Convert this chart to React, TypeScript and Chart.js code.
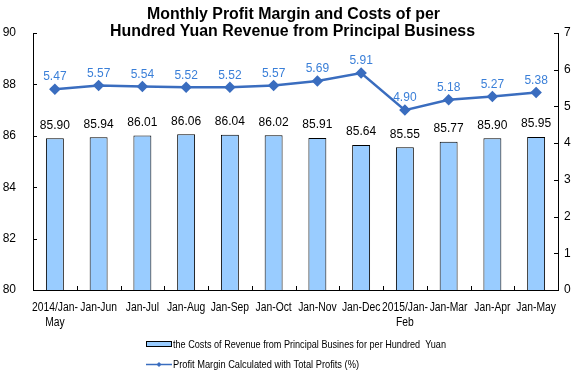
import React, { useEffect, useRef } from 'react';
import { Chart, registerables } from 'chart.js';
Chart.register(...registerables);

const categories: (string | string[])[] = [
  ['2014/Jan-', 'May'], 'Jan-Jun', 'Jan-Jul', 'Jan-Aug', 'Jan-Sep', 'Jan-Oct',
  'Jan-Nov', 'Jan-Dec', ['2015/Jan-', 'Feb'], 'Jan-Mar', 'Jan-Apr', 'Jan-May',
];
const costs = [85.90, 85.94, 86.01, 86.06, 86.04, 86.02, 85.91, 85.64, 85.55, 85.77, 85.90, 85.95];
const margin = [5.47, 5.57, 5.54, 5.52, 5.52, 5.57, 5.69, 5.91, 4.90, 5.18, 5.27, 5.38];
const titleLines = ['Monthly Profit Margin and Costs of per', 'Hundred Yuan Revenue from Principal Business'];
const costLabel = 'the Costs of Revenue from Principal Busines for per Hundred  Yuan';
const marginLabel = 'Profit Margin Calculated with Total Profits (%)';

const FONT = '"Liberation Sans", Arial, sans-serif';
const BAR_FILL = '#99CCFF';
const LINE_COLOR = '#3A6DBF';
const LABEL_BLUE = '#3A7FD8';

function fitText(ctx: CanvasRenderingContext2D, text: string, x: number, y: number, w: number, align: 'left' | 'center') {
  const m = ctx.measureText(text).width;
  const s = w / m;
  ctx.save();
  ctx.translate(x, y);
  ctx.scale(s, 1);
  ctx.textAlign = align;
  ctx.textBaseline = 'alphabetic';
  ctx.fillText(text, 0, 0);
  ctx.restore();
}

function scaledText(ctx: CanvasRenderingContext2D, text: string, x: number, y: number, s: number) {
  ctx.save();
  ctx.translate(x, y);
  ctx.scale(s, 1);
  ctx.textAlign = 'center';
  ctx.textBaseline = 'middle';
  ctx.fillText(text, 0, 0);
  ctx.restore();
}

const decorPlugin = {
  id: 'decor',
  afterDatasetsDraw(chart: any) {
    const ctx: CanvasRenderingContext2D = chart.ctx;
    const area = chart.chartArea;
    const x = chart.scales.x;
    const yL = chart.scales.y;
    const yR = chart.scales.y1;
    ctx.save();
    // inward ticks
    ctx.strokeStyle = '#000';
    ctx.lineWidth = 1;
    ctx.beginPath();
    yL.ticks.forEach((t: any) => {
      const py = Math.round(yL.getPixelForValue(t.value)) + 0.5;
      ctx.moveTo(area.left, py);
      ctx.lineTo(area.left + 4, py);
    });
    yR.ticks.forEach((t: any) => {
      const py = Math.round(yR.getPixelForValue(t.value)) + 0.5;
      ctx.moveTo(area.right - 4, py);
      ctx.lineTo(area.right, py);
    });
    for (let i = 0; i < categories.length - 1; i++) {
      const px = Math.round((x.getPixelForValue(i) + x.getPixelForValue(i + 1)) / 2) + 0.5;
      ctx.moveTo(px, area.bottom);
      ctx.lineTo(px, area.bottom - 4);
    }
    ctx.stroke();

    // category labels
    ctx.fillStyle = '#000';
    ctx.font = `12px ${FONT}`;
    categories.forEach((c, i) => {
      const lines = Array.isArray(c) ? c : [c];
      const cx = x.getPixelForValue(i);
      lines.forEach((ln, j) => scaledText(ctx, ln, cx, area.bottom + 18 + j * 15, 0.86));
    });

    // data labels
    ctx.font = `12px ${FONT}`;
    ctx.textAlign = 'center';
    ctx.textBaseline = 'middle';
    const barMeta = chart.getDatasetMeta(0);
    ctx.fillStyle = '#000';
    barMeta.data.forEach((el: any, i: number) => {
      ctx.fillText(costs[i].toFixed(2), el.x, el.y - 13);
    });
    const lineMeta = chart.getDatasetMeta(1);
    ctx.fillStyle = LABEL_BLUE;
    lineMeta.data.forEach((el: any, i: number) => {
      ctx.fillText(margin[i].toFixed(2), el.x, el.y - 12);
    });

    // title
    ctx.fillStyle = '#000';
    ctx.font = `bold 16px ${FONT}`;
    fitText(ctx, titleLines[0], 293.5, 19, 293, 'center');
    fitText(ctx, titleLines[1], 292.5, 36, 365, 'center');

    // legend
    ctx.fillStyle = BAR_FILL;
    ctx.fillRect(146, 341, 26, 6);
    ctx.strokeStyle = '#000';
    ctx.strokeRect(146.5, 341.5, 25, 5);
    ctx.strokeStyle = LINE_COLOR;
    ctx.lineWidth = 1.5;
    ctx.beginPath();
    ctx.moveTo(146, 364.5);
    ctx.lineTo(172, 364.5);
    ctx.stroke();
    ctx.fillStyle = LINE_COLOR;
    ctx.beginPath();
    ctx.moveTo(159, 362);
    ctx.lineTo(161.5, 364.5);
    ctx.lineTo(159, 367);
    ctx.lineTo(156.5, 364.5);
    ctx.closePath();
    ctx.fill();
    ctx.fillStyle = '#000';
    ctx.font = `11px ${FONT}`;
    fitText(ctx, costLabel, 173, 348, 273, 'left');
    fitText(ctx, marginLabel, 173, 368, 186, 'left');
    ctx.restore();
  },
};

export default function App() {
  const ref = useRef<HTMLCanvasElement>(null);
  useEffect(() => {
    if (!ref.current) return;
    const chart = new Chart(ref.current, {
      type: 'bar',
      data: {
        labels: categories as any,
        datasets: [
          {
            type: 'bar',
            label: costLabel,
            data: costs,
            backgroundColor: BAR_FILL,
            borderColor: '#000',
            borderWidth: 1,
            categoryPercentage: 1,
            barPercentage: 0.41,
            yAxisID: 'y',
            order: 1,
          },
          {
            type: 'line',
            label: marginLabel,
            data: margin,
            borderColor: LINE_COLOR,
            backgroundColor: LINE_COLOR,
            borderWidth: 2.5,
            pointStyle: 'rectRot',
            pointRadius: 4,
            pointBackgroundColor: LINE_COLOR,
            pointBorderColor: LINE_COLOR,
            yAxisID: 'y1',
            order: 0,
          } as any,
        ],
      },
      options: {
        responsive: false,
        animation: false,
        layout: { padding: { top: 33, bottom: 50, left: 0, right: 0 } },
        plugins: { legend: { display: false }, tooltip: { enabled: false }, title: { display: false } },
        scales: {
          x: {
            grid: { display: false, drawTicks: false },
            border: { display: true, color: '#000', width: 1 },
            ticks: { display: false },
            afterFit: (s: any) => { s.height = 39; },
          },
          y: {
            position: 'left',
            min: 80,
            max: 90,
            ticks: { stepSize: 2, color: '#000', font: { size: 12, family: FONT }, padding: 17 },
            grid: { display: false, drawTicks: false },
            border: { display: true, color: '#000', width: 1 },
            afterFit: (s: any) => { s.width = 33; },
          },
          y1: {
            position: 'right',
            min: 0,
            max: 7,
            ticks: { stepSize: 1, color: '#000', font: { size: 12, family: FONT }, padding: 6 },
            grid: { display: false, drawTicks: false },
            border: { display: true, color: '#000', width: 1 },
            afterFit: (s: any) => { s.width = 27; },
          },
        },
      },
      plugins: [decorPlugin],
    });
    return () => chart.destroy();
  }, []);
  return (
    <div style={{ position: 'fixed', left: 0, top: 0, width: 585, height: 379, background: '#fff' }}>
      <canvas ref={ref} width={585} height={379} />
    </div>
  );
}
